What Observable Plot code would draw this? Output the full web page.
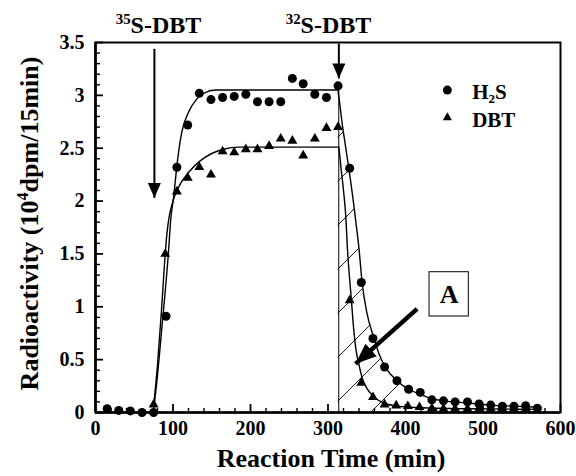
<!DOCTYPE html>
<html><head><meta charset="utf-8">
<script src="https://cdn.jsdelivr.net/npm/d3@7"></script>
<script src="https://cdn.jsdelivr.net/npm/@observablehq/plot@0.6"></script>
<style>body{margin:0;background:#fff} svg{display:block}</style>
</head><body><div id="chart"></div>
<script>
// ---- measured points ----
const h2sTime = [15,30,45,60,75,91,105,119,134,149,164,179,194,209,224,239,254,268,283,298,313,328,343,358,373,389,404,419,434,449,464,480,495,510,525,540,555,570];
const h2sValue = [0.035,0.02,0.015,0.0,0.0,0.91,2.32,2.72,3.02,2.96,2.98,2.99,3.01,2.94,2.94,2.94,3.16,3.11,3.01,2.98,3.09,2.31,1.23,0.70,0.43,0.30,0.22,0.19,0.12,0.11,0.10,0.10,0.08,0.07,0.06,0.06,0.065,0.04];
const dbtTime = [75,90,105,119,134,149,164,179,194,209,224,239,254,268,283,298,313,328,343,358,373,388,403,418,434,449,464,480,495,510,525,540,555];
const dbtValue = [0.075,1.50,2.09,2.22,2.32,2.25,2.47,2.46,2.49,2.49,2.52,2.59,2.57,2.43,2.59,2.69,2.70,1.06,0.28,0.145,0.075,0.065,0.06,0.05,0.04,0.035,0.035,0.035,0.035,0.035,0.035,0.035,0.035];

// ---- fitted curves ----
const h2sRiseTime = [75,80,85,90,94,97,101,104.5,110,120,130,140,155,313];
const h2sRiseValue = [0.02,0.35,0.75,1.15,1.5,1.82,2.05,2.3,2.6,2.84,2.96,3.02,3.05,3.05];
const h2sDropTime = [313,318,324,329,333,336,340,344,350,359,366,374,389,404,420,435,450,480,510,540,575];
const h2sDropValue = [3.05,2.75,2.45,2.2,1.98,1.8,1.55,1.23,0.95,0.71,0.55,0.43,0.3,0.22,0.17,0.13,0.11,0.09,0.07,0.06,0.05];
const dbtRiseTime = [75,80,85,89,92,95,100,104.5,110,120,135,150,165,185,314];
const dbtRiseValue = [0.06,0.45,0.95,1.4,1.68,1.85,2.0,2.09,2.17,2.27,2.38,2.45,2.49,2.51,2.51];
const dbtDropTime = [314,317,320,323,325,327.5,330,333,336,340,344,350,359,374,390,420,480,575];
const dbtDropValue = [2.51,2.3,2.1,1.85,1.56,1.3,1.08,0.8,0.6,0.45,0.33,0.23,0.15,0.085,0.06,0.045,0.035,0.03];

// ---- ticks and labels ----
const xTicks = [0,100,200,300,400,500,600];
const yTicks = [0,0.5,1,1.5,2,2.5,3,3.5];
const xMinor = d3.range(0, 601, 20).filter(d => d % 100 !== 0);
const yMinor = d3.range(0, 36).map(d => d / 10).filter(d => Math.round(d * 10) % 5 !== 0);
const xTitle = "Reaction Time (min)";
const yTitle = "Radioactivity (104dpm/15min)";
const seriesLabels = ["H2S", "DBT"];
const eventLabels = ["35S-DBT", "32S-DBT"];
const boxLabel = "A";

const rows = (T, V) => T.map((t, i) => ({t, v: V[i]}));
const h2s = rows(h2sTime, h2sValue);
const dbt = rows(dbtTime, dbtValue);
const h2sRise = rows(h2sRiseTime, h2sRiseValue);
const h2sDrop = rows(h2sDropTime, h2sDropValue);
const dbtRise = rows(dbtRiseTime, dbtRiseValue);
const dbtDrop = rows(dbtDropTime, dbtDropValue);
const hatch = h2sDrop.filter(d => d.t <= 404);

const W = 576, H = 476, mL = 95, mR = 16, mT = 42, mB = 64;
const plotW = W - mL - mR, plotH = H - mT - mB;
const lineStyle = {x: "t", y: "v", curve: "monotone-x", stroke: "black", strokeWidth: 1.4};

const chart = Plot.plot({
  width: W, height: H,
  marginLeft: mL, marginRight: mR, marginTop: mT, marginBottom: mB,
  style: {fontFamily: '"Liberation Serif", "Times New Roman", serif', fontWeight: "bold", fontSize: "20px", background: "white", color: "black"},
  x: {domain: [0, 600]},
  y: {domain: [0, 3.5]},
  marks: [
    Plot.areaY(hatch, {x: "t", y: "v", curve: "monotone-x", fill: "url(#hatch)"}),
    Plot.ruleX([313.9], {y1: 0, y2: 3.05, stroke: "black", strokeWidth: 1}),
    Plot.frame({stroke: "black", strokeWidth: 2}),
    Plot.ruleX([0], {stroke: "black", strokeWidth: 2.6}),
    Plot.ruleY([0], {stroke: "black", strokeWidth: 2.6}),
    Plot.tickX(xMinor, {x: d => d, insetTop: plotH - 4, stroke: "black", strokeWidth: 1.4}),
    Plot.tickX(xTicks, {x: d => d, insetTop: plotH - 8, stroke: "black", strokeWidth: 1.8}),
    Plot.tickY(yMinor, {y: d => d, insetRight: plotW - 5, stroke: "black", strokeWidth: 1.4}),
    Plot.tickY(yTicks, {y: d => d, insetRight: plotW - 8, stroke: "black", strokeWidth: 1.8}),
    Plot.axisX({ticks: xTicks, tickSize: 0, tickPadding: 8, fontSize: 20, tickFormat: d => String(d), label: null}),
    Plot.axisY({ticks: yTicks, tickSize: 0, tickPadding: 11, fontSize: 20, tickFormat: d => String(d), label: null}),
    Plot.line(h2sRise, lineStyle),
    Plot.line(h2sDrop, lineStyle),
    Plot.line(dbtRise, lineStyle),
    Plot.line(dbtDrop, lineStyle),
    Plot.dot(h2s, {x: "t", y: "v", r: 4.5, fill: "black"}),
    Plot.dot(dbt, {x: "t", y: "v", r: 3.7, symbol: "triangle", fill: "black"}),
    // legend
    Plot.dot([seriesLabels[0]], {x: 454, y: 3.05, r: 4.5, fill: "black"}),
    Plot.dot([seriesLabels[1]], {x: 454, y: 2.79, r: 3.4, symbol: "triangle", fill: "black"}),
    Plot.text([seriesLabels[0]], {x: 486, y: 3.03, text: d => d, textAnchor: "start", fontSize: 21}),
    Plot.text([seriesLabels[1]], {x: 486, y: 2.76, text: d => d, textAnchor: "start", fontSize: 21}),
    // event arrows
    Plot.link([0], {x1: 76, y1: 3.44, x2: 76, y2: 2.03, stroke: "black", strokeWidth: 2, markerEnd: "arrow"}),
    Plot.link([0], {x1: 314, y1: 3.49, x2: 314, y2: 3.16, stroke: "black", strokeWidth: 2, markerEnd: "arrow"}),
    Plot.text([eventLabels[0]], {x: 81.3, y: 3.658, text: d => d, fontSize: 24}),
    Plot.text([eventLabels[1]], {x: 300.6, y: 3.658, text: d => d, fontSize: 24}),
    // box A and its arrow
    Plot.link([0], {x1: 415, y1: 0.98, x2: 335.5, y2: 0.46, stroke: "black", strokeWidth: 4.5, markerEnd: "arrow"}),
    Plot.rect([0], {x1: 431, x2: 481.7, y1: 0.908, y2: 1.327, fill: "white", stroke: "black", strokeWidth: 1}),
    Plot.text([boxLabel], {x: 456.4, y: 1.117, text: d => d, fontSize: 26}),
    // axis titles
    Plot.text([xTitle], {frameAnchor: "bottom", textAnchor: "middle", lineAnchor: "middle", dx: 3, dy: 46, text: d => d, fontSize: 26}),
    Plot.text([yTitle], {frameAnchor: "left", textAnchor: "middle", lineAnchor: "middle", dx: -66, dy: -4, rotate: -90, text: d => d, fontSize: 26})
  ]
});
document.getElementById("chart").append(chart);

// ---- post-processing: hatch pattern, filled arrowheads, super/subscripts ----
const svg = d3.select(chart);
const defs = svg.insert("defs", ":first-child");
defs.append("pattern").attr("id", "hatch").attr("patternUnits", "userSpaceOnUse")
  .attr("x", 35).attr("y", 0).attr("width", 44).attr("height", 44)
  .append("path").attr("d", "M-11,11L11,-11M0,44L44,0M33,55L55,33")
  .attr("stroke", "black").attr("stroke-width", 0.9).attr("fill", "none");
function head(id, len, wid) {
  defs.append("marker").attr("id", id).attr("markerUnits", "userSpaceOnUse")
    .attr("viewBox", `0 ${-wid / 2} ${len} ${wid}`).attr("markerWidth", len).attr("markerHeight", wid)
    .attr("refX", len).attr("refY", 0).attr("orient", "auto")
    .append("path").attr("d", `M0,${-wid / 2}L${len},0L0,${wid / 2}Z`).attr("fill", "black");
}
head("headSmall", 15, 13);
head("headBig", 21, 17);
svg.selectAll("[marker-end]").each(function () {
  const sw = parseFloat(getComputedStyle(this).strokeWidth);
  this.setAttribute("marker-end", sw > 3 ? "url(#headBig)" : "url(#headSmall)");
});
const rich = {
  "35S-DBT": [["35", "sup"], ["S-DBT", ""]],
  "32S-DBT": [["32", "sup"], ["S-DBT", ""]],
  "H2S": [["H", ""], ["2", "sub"], ["S", ""]],
  [yTitle]: [["Radioactivity (10", ""], ["4", "sup"], ["dpm/15min)", ""]]
};
svg.selectAll("text").each(function () {
  const parts = rich[this.textContent];
  if (!parts) return;
  const fs = parseFloat(getComputedStyle(this).fontSize);
  this.textContent = "";
  let shift = 0;
  for (const [t, kind] of parts) {
    const target = kind === "sup" ? -0.38 * fs : kind === "sub" ? 0.2 * fs : 0;
    const ts = document.createElementNS("http://www.w3.org/2000/svg", "tspan");
    ts.textContent = t;
    ts.setAttribute("dy", (target - shift).toFixed(2));
    if (kind) ts.setAttribute("font-size", (0.62 * fs).toFixed(1));
    shift = target;
    this.appendChild(ts);
  }
});
</script>
</body></html>
